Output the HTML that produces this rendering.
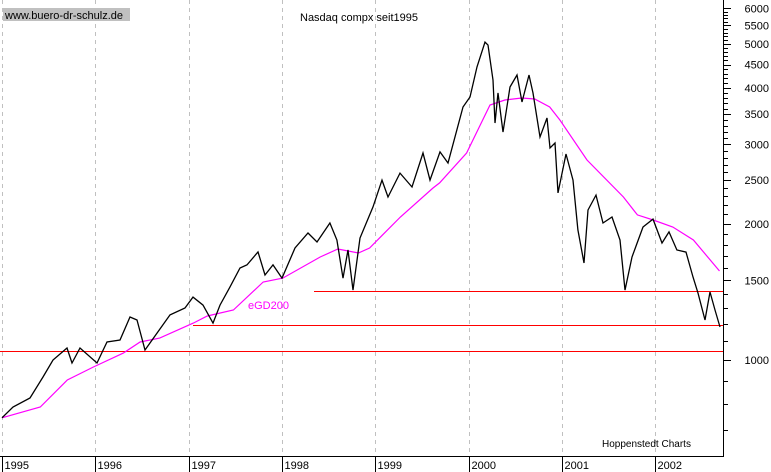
<!DOCTYPE html>
<html><head><meta charset="utf-8"><style>
body{margin:0;background:#fff;}
svg{display:block;font-family:"Liberation Sans",sans-serif;}
</style></head><body>
<svg id="chart" width="771" height="472">
<rect x="0" y="0" width="771" height="472" fill="#fff"/>
<g id="grid"></g>
<g id="hlines"></g>
<path id="ema" fill="none" stroke="#ff00ff" stroke-width="1.2"/>
<path id="price" fill="none" stroke="#000" stroke-width="1.3"/>
<g id="axes"></g>
<rect x="3" y="8" width="127" height="13" fill="#c0c0c0"/>
<text x="5" y="19" font-size="11" fill="#000">www.buero-dr-schulz.de</text>
<text x="300" y="21" font-size="11" fill="#000">Nasdaq compx seit1995</text>
<text x="248" y="309" font-size="11" fill="#ff00ff">eGD200</text>
<text x="602" y="447" font-size="10" fill="#000">Hoppenstedt Charts</text>
</svg>
<script>
const priceDates=[1995.0,1995.118,1995.3,1995.439,1995.547,1995.697,1995.75,1995.836,1996.018,1996.125,1996.265,1996.372,1996.447,1996.533,1996.661,1996.801,1996.961,
1997.047,1997.154,1997.261,1997.337,1997.444,1997.551,1997.626,1997.744,1997.819,1997.905,1998.001,1998.14,1998.28,1998.376,1998.515,1998.59,1998.655,1998.708,1998.762,1998.837,1998.976,
1999.073,1999.137,1999.266,1999.394,1999.512,1999.587,1999.694,1999.78,1999.941,2000.016,2000.091,2000.177,2000.209,2000.263,2000.284,2000.316,2000.37,2000.445,2000.52,2000.573,2000.648,2000.691,2000.766,2000.841,2000.873,2000.927,2000.959,
2001.045,2001.12,2001.173,2001.238,2001.281,2001.367,2001.442,2001.538,2001.624,2001.677,2001.752,2001.87,2001.977,2002.074,2002.149,2002.234,2002.331,2002.406,2002.46,2002.535,2002.588,2002.642,2002.696];
const priceValues=[745,787,824,917,1000,1063,985,1063,985,1096,1107,1245,1226,1052,1147,1258,1303,
1378,1323,1207,1323,1451,1598,1623,1734,1542,1623,1518,1769,1910,1824,2010,1843,1518,1751,1428,1862,2181,
2500,2294,2591,2414,2871,2500,2886,2728,3629,3818,4450,5051,4976,4164,3344,3896,3195,4018,4272,3722,4272,3896,3115,3431,2945,3021,2342,
2856,2500,1940,1639,2147,2317,2010,2072,1843,1428,1690,1969,2050,1815,1920,1751,1733,1526,1406,1226,1414,1290,1183];
const emaDates=[1995.0,1995.41,1995.70,1995.98,1996.30,1996.48,1996.69,1997.05,1997.20,1997.48,1997.80,1998.01,1998.41,1998.60,1998.82,1998.94,1999.27,1999.62,1999.69,1999.98,2000.23,2000.39,2000.57,2000.71,2000.87,2000.98,2001.27,2001.66,2001.81,2001.98,2002.19,2002.41,2002.69];
const emaValues=[745,787,903,965,1036,1096,1118,1207,1251,1290,1488,1518,1690,1760,1725,1769,2072,2402,2465,2871,3666,3761,3799,3780,3629,3396,2770,2294,2094,2040,1969,1843,1574];
const yTickLabels=[1000,1500,2000,2500,3000,3500,4000,4500,5000,5500,6000];
const yearLabels=["1995","1996","1997","1998","1999","2000","2001","2002"];
const supportLevels=[1421,1195,1047];

const X0=2,XPY=93.3,AXR=723,AXB=456;
function xs(t){return X0+(t-1995)*XPY;}
function ys(v){return 360-452*Math.log10(v/1000);}
const NS="http://www.w3.org/2000/svg";
function mk(tag,attrs,parent){const e=document.createElementNS(NS,tag);for(const k in attrs)e.setAttribute(k,attrs[k]);parent.appendChild(e);return e;}

const grid=document.getElementById('grid');
yearLabels.forEach((y,i)=>{
  const x=Math.round(xs(1995+i))+0.5;
  const l=mk('line',{x1:x,y1:0,x2:x,y2:AXB,stroke:'#c0c0c0','stroke-dasharray':'4,4'},grid);
  
  
});
const hl=document.getElementById('hlines');
const starts=[314,193,0];
supportLevels.forEach((v,i)=>{
  const y=Math.round(ys(v))+0.5;
  const l=mk('line',{x1:starts[i],y1:y,x2:AXR,y2:y,stroke:'#ff0000','stroke-width':1},hl);
  
  
});
function pathOf(d,v){return d.map((t,i)=>(i?'L':'M')+xs(t).toFixed(1)+','+ys(v[i]).toFixed(1)).join('');}
document.getElementById('price').setAttribute('d',pathOf(priceDates,priceValues));
document.getElementById('ema').setAttribute('d',pathOf(emaDates,emaValues));

const ax=document.getElementById('axes');
mk('line',{x1:AXR+0.5,y1:0,x2:AXR+0.5,y2:AXB,stroke:'#000'},ax);
mk('line',{x1:0,y1:AXB+0.5,x2:AXR+1,y2:AXB+0.5,stroke:'#000'},ax);
for(let v=700;v<=6000;v+=100){
  const y=Math.round(ys(v))+0.5;
  const major=yTickLabels.includes(v);
  mk('line',{x1:AXR,y1:y,x2:AXR+(major?8:5),y2:y,stroke:'#000'},ax);
}
yTickLabels.forEach(v=>{
  const t=mk('text',{x:769,y:ys(v)+4,'font-size':11,'text-anchor':'end',fill:'#000'},ax);
  t.textContent=v;
  
  
});
yearLabels.forEach((y,i)=>{
  const x=Math.round(xs(1995+i))+0.5;
  mk('line',{x1:x,y1:AXB,x2:x,y2:472,stroke:'#000'},ax);
  const t=mk('text',{x:x+2,y:469,'font-size':11,fill:'#000'},ax);
  t.textContent=y;
  
  
});
</script>
</body></html>
